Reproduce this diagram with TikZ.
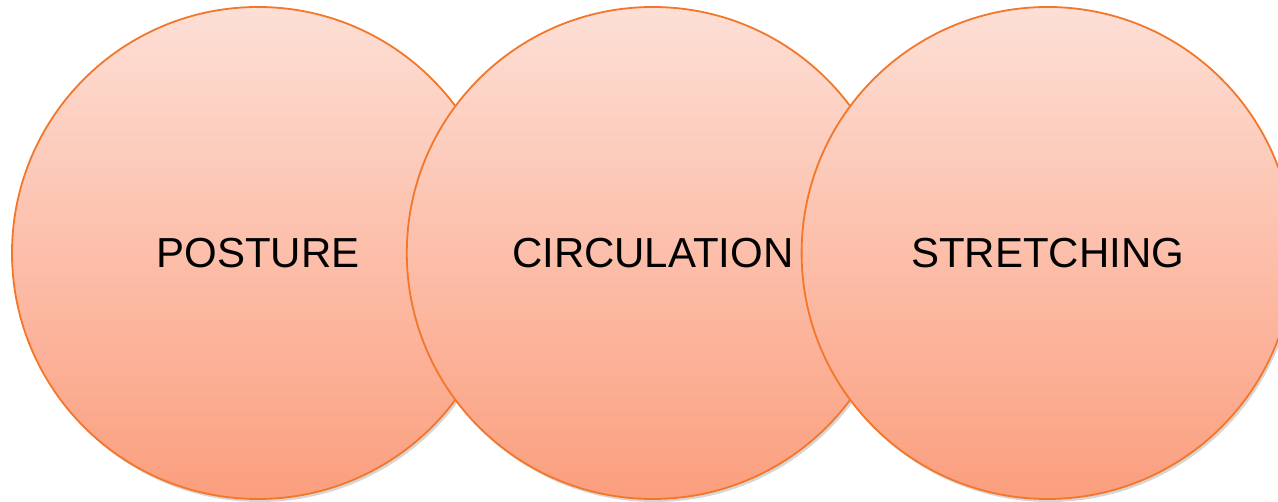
\documentclass[tikz,border=0pt]{standalone}
\usepackage{fontspec}
\setmainfont{Liberation Sans}
\usetikzlibrary{positioning,shadows}
\definecolor{catNaranja}{HTML}{F47629}
\definecolor{catSalmonClaro}{HTML}{FDDFD6}
\definecolor{catSalmon}{HTML}{FB9E7E}

\begin{document}
\begin{tikzpicture}[
        x=1pt,
        y=1pt,
        font=\fontsize{42}{48}\selectfont,
        bola/.style={circle, minimum size=492pt, inner sep=0pt, draw=catNaranja, line width=1.8pt,
            top color=catSalmonClaro, bottom color=catSalmon,
            drop shadow={opacity=0.32, shadow xshift=2pt, shadow yshift=-3pt}}
    ]
        % Marco de la figura: la tercera bola se corta a la derecha.
        \clip (0,0) rectangle (1278,502);

        % Tres bolas solapadas, cada una encima de la anterior.
        \node[bola] (posture) at (258,249) {POSTURE};
        \node[bola, right=-99pt of posture] (circulation) {CIRCULATION};
        \node[bola, right=-99pt of circulation] (stretching) {STRETCHING};
    \end{tikzpicture}
\end{document}
